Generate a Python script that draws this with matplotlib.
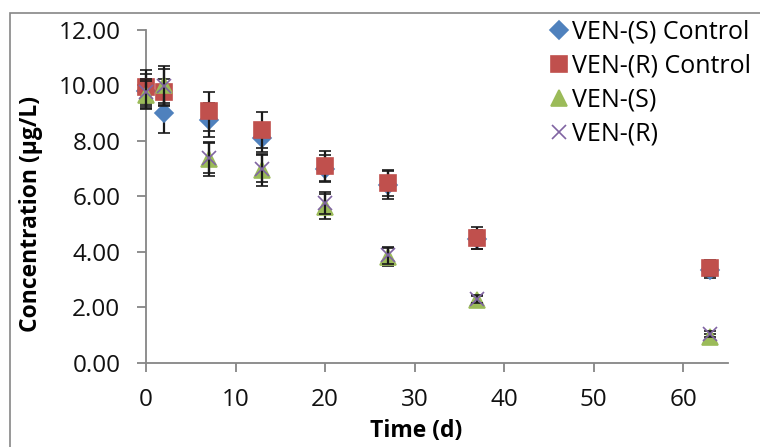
import matplotlib
matplotlib.use("Agg")
import matplotlib.pyplot as plt
from matplotlib.patches import Rectangle

plt.rcParams["font.family"] = ["Open Sans", "DejaVu Sans"]

days = [0, 2, 7, 13, 20, 27, 37, 63]

s_control = [9.80, 9.00, 8.75, 8.10, 7.00, 6.40, 4.45, 3.35]
s_control_err = [0.60, 0.70, 0.60, 0.50, 0.50, 0.50, 0.35, 0.30]
r_control = [9.94, 9.75, 9.07, 8.39, 7.09, 6.48, 4.50, 3.41]
r_control_err = [0.60, 0.50, 0.70, 0.65, 0.55, 0.48, 0.40, 0.30]
ven_s = [9.65, 10.00, 7.33, 6.94, 5.63, 3.80, 2.26, 0.93]
ven_s_err = [0.50, 0.70, 0.60, 0.57, 0.45, 0.32, 0.15, 0.10]
ven_r = [9.75, 9.98, 7.40, 7.00, 5.76, 3.87, 2.30, 1.04]
ven_r_err = [0.50, 0.60, 0.55, 0.50, 0.40, 0.30, 0.15, 0.10]

labels = ["VEN-(S) Control", "VEN-(R) Control", "VEN-(S)", "VEN-(R)"]
yticks = [0, 2, 4, 6, 8, 10, 12]
xticks = [0, 10, 20, 30, 40, 50, 60]

GRAY = "#868686"

fig = plt.figure(figsize=(7.6, 4.47), dpi=100)
ax = fig.add_axes([146 / 760, 1 - 362.7 / 447, 582 / 760, 332.7 / 447])

series = [
    (s_control, s_control_err, "D", "#4F81BD", 9.5),
    (r_control, r_control_err, "s", "#C0504D", 11.5),
    (ven_s, ven_s_err, "^", "#9BBB59", 11.5),
    (ven_r, ven_r_err, "x", "#8064A2", 10.5),
]
for i, (vals, errs, mk, col, ms) in enumerate(series):
    eb = ax.errorbar(days, vals, yerr=errs, fmt=mk, color=col, ms=ms,
                     mec=col, mew=1.2, ecolor="#1a1a1a", elinewidth=1.6,
                     capsize=4.5, capthick=1.6, label=labels[i],
                     zorder=3 + i, clip_on=False)
    for art in eb.lines[1] + eb.lines[2]:
        art.set_clip_on(False)

ax.set_xlim(0, 65)
ax.set_ylim(0, 12)
ax.set_xticks(xticks)
ax.set_yticks(yticks)
ax.set_yticklabels([f"{v:.2f}" for v in yticks])
for side in ("top", "right"):
    ax.spines[side].set_visible(False)
for side in ("left", "bottom"):
    ax.spines[side].set_color(GRAY)
    ax.spines[side].set_linewidth(1.3)
ax.tick_params(axis="both", colors=GRAY, length=6.5, width=1.3,
               labelcolor="#111111", labelsize=17.5)
ax.tick_params(axis="x", pad=12)
ax.tick_params(axis="y", pad=12)

ax.set_ylabel("Concentration (µg/L)", fontsize=16.5, fontweight="bold")
ax.yaxis.set_label_coords(-0.177, 0.447)
ax.set_xlabel("Time (d)", fontsize=16.5, fontweight="bold")
ax.xaxis.set_label_coords(0.464, -0.17)

handles, labs = ax.get_legend_handles_labels()
handles = [h[0] for h in handles]
fig.legend(handles, labs, loc="upper left",
           bbox_to_anchor=(531 / 760, 1 - 2 / 447), frameon=False,
           fontsize=18, handlelength=0.8, handletextpad=0.15,
           labelspacing=0.36, borderpad=0.2)

fig.patches.append(Rectangle((10 / 760, -0.1), 1.2, 1.1 - 13 / 447,
                             transform=fig.transFigure, fill=False,
                             edgecolor=GRAY, linewidth=1.2))

fig.savefig("out.png", dpi=100)
